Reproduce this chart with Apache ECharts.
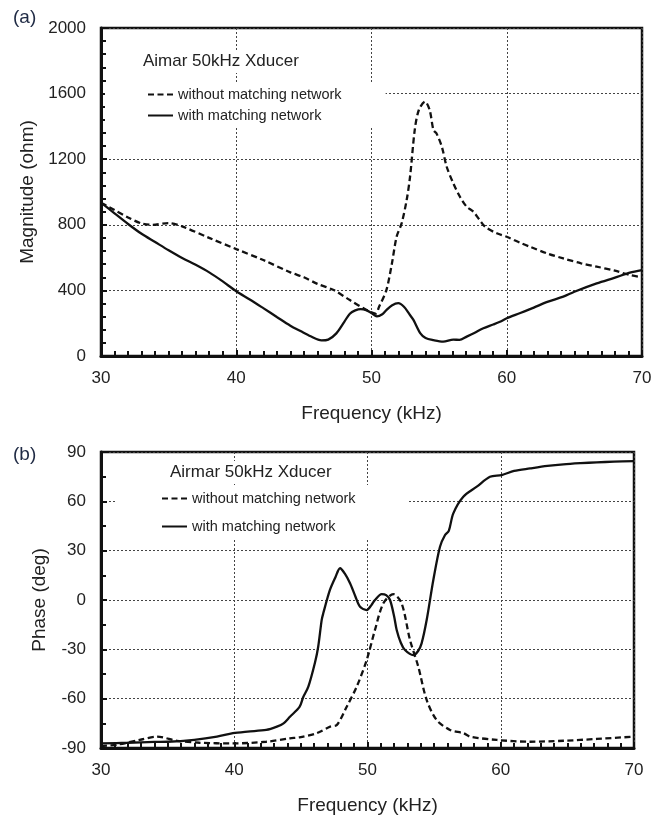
<!DOCTYPE html>
<html>
<head>
<meta charset="utf-8">
<script src="https://cdn.jsdelivr.net/npm/echarts@6/dist/echarts.min.js"></script>
<style>
html,body{margin:0;padding:0;background:#fff;}
#chart{width:656px;height:826px;}
</style>
</head>
<body>
<div id="chart"></div>
<script>
// ---- Data ----
var seriesNames = ['without matching network', 'with matching network'];
var xTicks = [30, 40, 50, 60, 70];
var magTicks = [0, 400, 800, 1200, 1600, 2000];
var phaseTicks = [-90, -60, -30, 0, 30, 60, 90];

// (a) Magnitude, without matching network
var magWithoutF = [30, 31, 32, 33, 33.8, 35, 36, 38, 40, 42, 44, 45, 46, 47.2, 48.4, 49.65, 50.3, 50.56, 51.1, 51.5, 51.86, 52.23, 52.6, 52.85, 53.2, 53.5, 53.96, 54.3, 54.58, 54.8, 55.2, 55.56, 56.05, 56.54, 57.04, 57.53, 58.0, 58.4, 59.26, 60, 61, 61.72, 63, 64.18, 65.5, 66.65, 68, 69.1, 70];
var magWithoutV = [935, 890, 845, 808, 800, 810, 790, 720, 652, 585, 510, 480, 440, 402, 341, 280, 258, 300, 402, 560, 728, 810, 951, 1093, 1380, 1500, 1551, 1500, 1378, 1358, 1276, 1154, 1053, 971, 910, 880, 829, 788, 748, 727, 690, 666, 625, 595, 565, 545, 520, 494, 480];

// (a) Magnitude, with matching network
var magWithF = [30, 31, 32, 33, 34, 35, 36, 37, 38, 39, 40, 41, 42, 43, 44, 44.75, 45.5, 46.3, 46.8, 47.4, 48, 48.4, 48.8, 49.2, 49.6, 50, 50.4, 50.8, 51.1, 51.5, 51.98, 52.4, 52.8, 53.1, 53.6, 54, 54.58, 55.3, 56.05, 56.5, 57.04, 57.6, 58.27, 59, 59.5, 60, 61, 62, 63, 64.18, 65, 66.65, 68, 69.1, 70];
var magWithV = [935, 870, 805, 745, 695, 645, 598, 556, 510, 455, 395, 345, 292, 238, 185, 152, 120, 95, 100, 138, 210, 258, 278, 286, 280, 262, 242, 255, 280, 308, 322, 300, 255, 220, 140, 110, 97, 88, 100, 98, 118, 140, 169, 192, 209, 230, 262, 295, 330, 362, 392, 443, 478, 508, 524];

// (b) Phase, without matching network
var phWithoutF = [30, 31.2, 32.9, 34.2, 35.7, 37.4, 39.9, 42.4, 44.18, 44.9, 46.18, 47.2, 47.7, 48.44, 49.19, 49.94, 50.56, 51.19, 51.94, 52.56, 53.19, 53.81, 54.44, 55.19, 56.19, 57.2, 57.7, 59.7, 62.2, 64.7, 67.2, 70];
var phWithoutV = [-88.8, -88, -85.1, -83.1, -85.6, -86.8, -87.2, -86.2, -84.1, -83.5, -81, -77, -76, -64.9, -52.7, -36.5, -18.2, -2, 3.6, -2, -24.3, -40.5, -60.8, -73, -79, -81, -83.1, -85.1, -86.2, -85.6, -84.5, -83.1];

// (b) Phase, with matching network
var phWithF = [30, 32, 34, 35, 37, 38.7, 39.9, 41, 42.4, 43.2, 43.7, 44.18, 44.9, 45.18, 45.56, 46.06, 46.3, 46.56, 46.68, 47.18, 47.6, 47.94, 48.3, 48.69, 49.1, 49.44, 49.94, 50.3, 50.56, 51.06, 51.4, 51.69, 52, 52.19, 52.5, 52.81, 53.44, 53.8, 54.06, 54.44, 54.94, 55.44, 55.82, 56.1, 56.44, 57.19, 58.2, 59.19, 60.07, 61, 62.2, 63.5, 64.7, 66, 67.2, 68.5, 70];
var phWithV = [-87.2, -86.8, -86.3, -86.2, -85, -83.1, -81, -80, -79, -77, -75, -71, -65, -59, -52.7, -38, -28.4, -12.2, -8.1, 6.1, 14, 19.3, 16, 10.2, 2, -4.1, -6.1, -3, 0, 3.6, 3, 0, -10, -18.2, -26, -30.4, -33.5, -31, -26.4, -12.2, 12.2, 32.4, 39.5, 42, 52.7, 62.8, 68.9, 75, 76, 78.5, 80, 81.5, 82.5, 83.2, 83.7, 84.1, 84.5];

function zip(f, v) { return f.map(function (x, i) { return [x, v[i]]; }); }

var FONT = '"Liberation Sans", Arial, sans-serif';
var INK = '#111';
function plain(v) { return String(v); }

function makeX(gridIndex) {
  return {
    type: 'value', gridIndex: gridIndex,
    min: xTicks[0], max: xTicks[xTicks.length - 1], interval: xTicks[1] - xTicks[0],
    name: 'Frequency (kHz)', nameLocation: 'middle', nameGap: 48,
    nameTextStyle: { fontSize: 19, color: '#222', fontFamily: FONT },
    axisLine: { show: true, onZero: false, lineStyle: { color: INK, width: 3 } },
    axisTick: { show: true, inside: true, length: 6, lineStyle: { color: INK, width: 2 } },
    minorTick: { show: true, splitNumber: 10, length: 5, lineStyle: { color: INK, width: 2 } },
    splitLine: { show: true, lineStyle: { color: '#444', width: 1, type: [2, 2] } },
    axisLabel: { fontSize: 17, color: '#222', margin: 14, fontFamily: FONT, formatter: plain }
  };
}
function makeY(gridIndex, ticks, name, minorSplit, nameGap) {
  return {
    type: 'value', gridIndex: gridIndex,
    min: ticks[0], max: ticks[ticks.length - 1], interval: ticks[1] - ticks[0],
    name: name, nameLocation: 'middle', nameGap: nameGap,
    nameTextStyle: { fontSize: 19, color: '#222', fontFamily: FONT },
    axisLine: { show: true, onZero: false, lineStyle: { color: INK, width: 3 } },
    axisTick: { show: true, inside: true, length: 6, lineStyle: { color: INK, width: 2 } },
    minorTick: { show: true, splitNumber: minorSplit, length: 5, lineStyle: { color: INK, width: 2 } },
    splitLine: { show: true, lineStyle: { color: '#444', width: 1, type: [2, 2] } },
    axisLabel: { fontSize: 17, color: '#222', margin: 15, fontFamily: FONT, formatter: plain }
  };
}
function makeSeries(name, data, idx, dashed) {
  return {
    name: name, type: 'line', xAxisIndex: idx, yAxisIndex: idx,
    data: data, symbol: 'none', smooth: 0.3,
    lineStyle: { color: INK, width: 2.3, type: dashed ? [6, 3.5] : 'solid' },
    itemStyle: { color: INK },
    z: 3
  };
}

var chart = echarts.init(document.getElementById('chart'), null, { renderer: 'canvas' });
var titleStyle = { fontSize: 17, fontWeight: 'normal', color: '#222', fontFamily: FONT };
var panelStyle = { fontSize: 19, fontWeight: 'normal', color: '#1f2a44', fontFamily: FONT };
var legendText = { fontSize: 14.5, color: '#222', fontFamily: FONT };

chart.setOption({
  backgroundColor: '#fff',
  animation: false,
  title: [
    { text: '(a)', left: 13, top: 8, padding: 0, textStyle: panelStyle },
    { text: 'Aimar 50kHz Xducer', left: 137, top: 50, padding: [3, 6], backgroundColor: '#fff', textStyle: titleStyle },
    { text: '(b)', left: 13, top: 445, padding: 0, textStyle: panelStyle },
    { text: 'Airmar 50kHz Xducer', left: 164, top: 461, padding: [3, 6], backgroundColor: '#fff', textStyle: titleStyle }
  ],
  legend: [
    {
      data: seriesNames, orient: 'vertical', left: 105, top: 83,
      padding: [4, 44, 3, 42], itemGap: 6, itemWidth: 25, itemHeight: 14,
      itemStyle: { opacity: 0 },
      backgroundColor: '#fff', textStyle: legendText, selectedMode: false
    },
    {
      data: seriesNames, orient: 'vertical', left: 115, top: 485,
      padding: [6, 52, 6, 46], itemGap: 13, itemWidth: 25, itemHeight: 14,
      itemStyle: { opacity: 0 },
      backgroundColor: '#fff', textStyle: legendText, selectedMode: false
    }
  ],
  grid: [
    { left: 101, top: 28, width: 541, height: 328, show: true, borderColor: INK, borderWidth: 2.5, backgroundColor: 'transparent' },
    { left: 101, top: 452, width: 533, height: 296, show: true, borderColor: INK, borderWidth: 2.5, backgroundColor: 'transparent' }
  ],
  xAxis: [makeX(0), makeX(1)],
  yAxis: [
    makeY(0, magTicks, 'Magnitude (ohm)', 5, 63),
    makeY(1, phaseTicks, 'Phase (deg)', 2, 52)
  ],
  series: [
    makeSeries(seriesNames[0], zip(magWithoutF, magWithoutV), 0, true),
    makeSeries(seriesNames[1], zip(magWithF, magWithV), 0, false),
    makeSeries(seriesNames[0], zip(phWithoutF, phWithoutV), 1, true),
    makeSeries(seriesNames[1], zip(phWithF, phWithV), 1, false)
  ]
});
</script>
</body>
</html>
